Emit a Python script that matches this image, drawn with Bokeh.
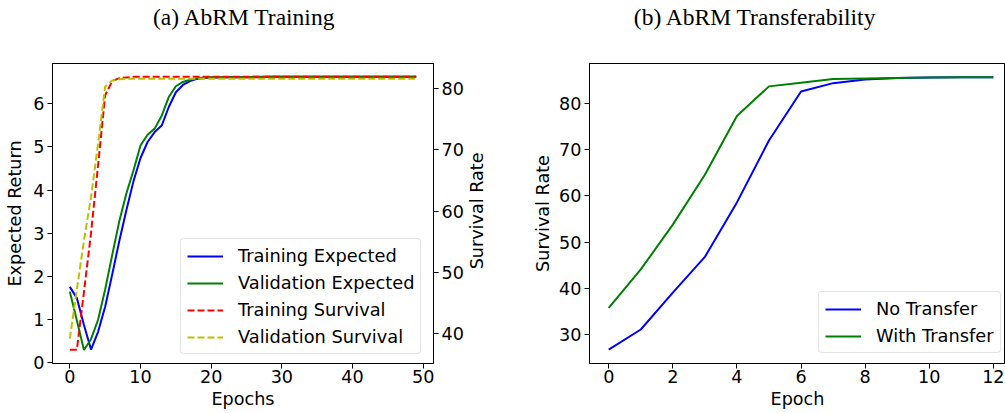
import math
from bokeh.plotting import figure
from bokeh.models import Range1d, LinearAxis, Legend, LegendItem
from bokeh.core.properties import value
from bokeh.layouts import row, column
from bokeh.embed import file_html
from bokeh.resources import INLINE

# ---------------- data: (a) AbRM Training ----------------
epochs_a = list(range(50))
train_expected = [1.76, 1.50, 0.88, 0.31, 0.72, 1.30, 2.05, 2.82, 3.53, 4.20,
                  4.74, 5.11, 5.34, 5.49, 5.92, 6.26, 6.43, 6.52, 6.57, 6.59,
                  6.60, 6.60, 6.61, 6.61, 6.61, 6.61, 6.61, 6.61, 6.62, 6.62,
                  6.62, 6.62, 6.62, 6.62, 6.62, 6.62, 6.62, 6.62, 6.62, 6.62,
                  6.62, 6.62, 6.62, 6.62, 6.62, 6.62, 6.62, 6.62, 6.62, 6.62]
valid_expected = [1.65, 0.98, 0.30, 0.55, 1.00, 1.70, 2.50, 3.28, 3.92, 4.45,
                  5.03, 5.28, 5.42, 5.72, 6.15, 6.40, 6.50, 6.55, 6.58, 6.60,
                  6.61, 6.61, 6.61, 6.61, 6.61, 6.61, 6.62, 6.62, 6.62, 6.62,
                  6.62, 6.62, 6.62, 6.62, 6.62, 6.62, 6.62, 6.62, 6.62, 6.62,
                  6.62, 6.62, 6.62, 6.62, 6.62, 6.62, 6.62, 6.62, 6.62, 6.62]
train_survival = [37.4, 37.4, 46.8, 56.4, 67.5, 78.9, 81.2, 81.7, 81.8, 81.9,
                  81.9, 81.9, 81.9, 81.9, 81.9, 81.9, 81.9, 81.9, 81.9, 81.9,
                  81.9, 81.9, 81.9, 81.9, 81.9, 81.9, 81.9, 81.9, 81.9, 81.9,
                  81.9, 81.9, 81.9, 81.9, 81.9, 81.9, 81.9, 81.9, 81.9, 81.9,
                  81.9, 81.9, 81.9, 81.9, 81.9, 81.9, 81.9, 81.9, 81.9, 81.9]
valid_survival = [39.2, 47.2, 55.2, 62.3, 71.0, 80.3, 81.3, 81.5, 81.6, 81.6,
                  81.6, 81.6, 81.6, 81.6, 81.6, 81.6, 81.6, 81.6, 81.6, 81.6,
                  81.6, 81.6, 81.6, 81.6, 81.6, 81.6, 81.6, 81.6, 81.6, 81.6,
                  81.6, 81.6, 81.6, 81.6, 81.6, 81.6, 81.6, 81.6, 81.6, 81.6,
                  81.6, 81.6, 81.6, 81.6, 81.6, 81.6, 81.6, 81.6, 81.6, 81.6]
ticks_a_x = [0, 10, 20, 30, 40, 50]
ticks_a_y = [0, 1, 2, 3, 4, 5, 6]
ticks_a_y2 = [40, 50, 60, 70, 80]

# ---------------- data: (b) AbRM Transferability ----------------
epochs_b = list(range(13))
no_transfer = [26.75, 31.1, 39.1, 46.8, 58.6, 72.0, 82.6, 84.4, 85.2, 85.5, 85.6, 85.7, 85.7]
with_transfer = [35.8, 44.1, 53.8, 64.6, 77.3, 83.7, 84.5, 85.3, 85.4, 85.5, 85.6, 85.7, 85.7]
ticks_b_x = [0, 2, 4, 6, 8, 10, 12]
ticks_b_y = [30, 40, 50, 60, 70, 80]

titles = ["(a) AbRM Training", "(b) AbRM Transferability"]

FONT = "DejaVu Sans"
SERIF = "Liberation Serif"
FS = "17.6px"
FS_LEG = "17.8px"
BLUE, GREEN, RED, YELLOW = "#0000ff", "#008000", "#ff0000", "#bfbf00"
LW = 2


def blank_fig(w, h):
    f = figure(width=w, height=h, x_range=Range1d(0, w), y_range=Range1d(0, h),
               output_backend="svg", toolbar_location=None, title_location=None,
               min_border_left=0, min_border_right=0, min_border_top=0,
               min_border_bottom=0)
    f.axis.visible = False
    f.grid.visible = False
    f.outline_line_color = None
    f.background_fill_color = "white"
    f.border_fill_color = "white"
    return f


def style_fig(p):
    p.xgrid.visible = False
    p.ygrid.visible = False
    p.outline_line_color = "black"
    p.outline_line_width = 1
    p.outline_line_alpha = 1
    p.background_fill_color = "white"
    p.border_fill_color = "white"


def style_axis(ax, standoff, label_standoff):
    ax.axis_line_color = "black"
    ax.major_tick_line_color = "black"
    ax.major_tick_out = 5
    ax.major_tick_in = 0
    ax.minor_tick_out = 0
    ax.minor_tick_in = 0
    ax.major_label_text_font = FONT
    ax.major_label_text_font_size = FS
    ax.major_label_text_color = "black"
    ax.major_label_standoff = standoff
    ax.axis_label_text_font = FONT
    ax.axis_label_text_font_size = FS
    ax.axis_label_text_font_style = "normal"
    ax.axis_label_text_color = "black"
    ax.axis_label_standoff = label_standoff


def style_legend(leg):
    leg.label_text_font = FONT
    leg.label_text_font_size = FS_LEG
    leg.label_text_color = "black"
    leg.border_line_color = "#cccccc"
    leg.border_line_width = 1
    leg.background_fill_color = "white"
    leg.background_fill_alpha = 0.8
    leg.glyph_width = 36
    leg.glyph_height = 20
    leg.label_height = 20
    leg.spacing = 6
    leg.padding = 6
    leg.label_standoff = 15
    leg.margin = 0
    try:
        leg.border_radius = 4
    except Exception:
        pass


# ---------------- header with the two captions ----------------
header = blank_fig(1005, 63)
header.text(x=[244, 755], y=[47, 47], text=titles,
            text_font=value(SERIF), text_font_size="23.5px", text_color="black",
            text_align="center", text_baseline="middle")

# ---------------- figure (a) ----------------
p1 = figure(width=466, height=350,
            x_range=Range1d(-2.45, 51.45), y_range=Range1d(-0.012, 6.926),
            output_backend="svg", toolbar_location=None, title_location=None,
            min_border_left=52, min_border_right=33,
            min_border_top=0, min_border_bottom=50)
style_fig(p1)
p1.extra_y_ranges = {"surv": Range1d(35.15, 84.08)}
ax_r = LinearAxis(y_range_name="surv")
p1.add_layout(ax_r, "right")

p1.xaxis.axis_label = "Epochs"
p1.yaxis[0].axis_label = "Expected Return"
p1.xaxis.ticker = ticks_a_x
p1.yaxis[0].ticker = ticks_a_y
ax_r.ticker = ticks_a_y2
style_axis(p1.xaxis[0], 1, 3)
style_axis(p1.yaxis[0], 3, 5)
style_axis(ax_r, 3, 5)

r1 = p1.line(epochs_a, train_expected, line_color=BLUE, line_width=LW)
r2 = p1.line(epochs_a, valid_expected, line_color=GREEN, line_width=LW)
r3 = p1.line(epochs_a, train_survival, line_color=RED, line_width=LW,
             line_dash="7 3", y_range_name="surv")
r4 = p1.line(epochs_a, valid_survival, line_color=YELLOW, line_width=LW,
             line_dash="7 3", y_range_name="surv")

leg1 = Legend(items=[LegendItem(label="Training Expected", renderers=[r1]),
                     LegendItem(label="Validation Expected", renderers=[r2]),
                     LegendItem(label="Training Survival", renderers=[r3]),
                     LegendItem(label="Validation Survival", renderers=[r4])],
              location=(128, 9))
style_legend(leg1)
p1.add_layout(leg1, "center")

# title of the right-hand axis of (a), reading bottom-to-top
aux = blank_fig(64, 350)
aux.text(x=[10], y=[178], text=["Survival Rate"], angle=math.pi / 2,
         text_font=value(FONT), text_font_size=FS, text_color="black",
         text_align="center", text_baseline="middle")

# ---------------- figure (b) ----------------
p2 = figure(width=475, height=350,
            x_range=Range1d(-0.6, 12.38), y_range=Range1d(23.75, 88.65),
            output_backend="svg", toolbar_location=None, title_location=None,
            min_border_left=57, min_border_right=0,
            min_border_top=0, min_border_bottom=50)
style_fig(p2)
p2.xaxis.axis_label = "Epoch"
p2.yaxis.axis_label = "Survival Rate"
p2.xaxis.ticker = ticks_b_x
p2.yaxis.ticker = ticks_b_y
style_axis(p2.xaxis[0], 1, 3)
style_axis(p2.yaxis[0], 3, 3)

q1 = p2.line(epochs_b, no_transfer, line_color=BLUE, line_width=LW)
q2 = p2.line(epochs_b, with_transfer, line_color=GREEN, line_width=LW)
leg2 = Legend(items=[LegendItem(label="No Transfer", renderers=[q1]),
                     LegendItem(label="With Transfer", renderers=[q2])],
              location=(229, 10))
style_legend(leg2)
p2.add_layout(leg2, "center")

layout = column(header, row(p1, aux, p2))
open("out.html", "w").write(file_html(layout, INLINE))
